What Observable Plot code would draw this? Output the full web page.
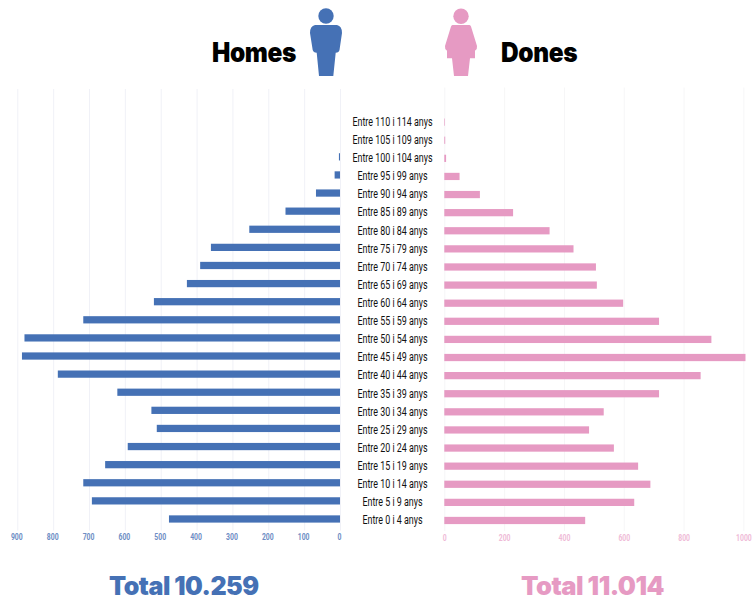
<!DOCTYPE html>
<html>
<head>
<meta charset="utf-8">
<script src="https://cdn.jsdelivr.net/npm/d3@7"></script>
<script src="https://cdn.jsdelivr.net/npm/@observablehq/plot@0.6"></script>
<style>
html,body{margin:0;padding:0;background:#fff;width:756px;height:601px;overflow:hidden}
#chart{position:relative;width:756px;height:601px}
#chart>svg,#chart>div>svg{position:absolute;left:0;top:0;background:transparent}
.t{position:absolute;font-family:Inter,sans-serif;font-weight:900;white-space:nowrap;line-height:1;transform-origin:left center}
</style>
</head>
<body>
<div id="chart">
<div class="t" style="left:212px;top:39px;font-size:27px;color:#000;letter-spacing:-.4px;transform:scaleX(.905)">Homes</div>
<div class="t" style="left:501px;top:39px;font-size:27px;color:#000;letter-spacing:-.4px;transform:scaleX(.905)">Dones</div>
<div class="t" style="left:109px;top:573px;font-size:25.5px;color:#4571b5;letter-spacing:-.5px;transform:scaleX(.98)">Total 10.259</div>
<div class="t" style="left:521px;top:573px;font-size:25.5px;color:#e69ac3;letter-spacing:-.5px">Total 11.014</div>
<svg width="756" height="80" style="position:absolute;left:0;top:0">
<circle cx="326" cy="16" r="7.7" fill="#4571b5"/>
<path fill="#4571b5" d="M315 25H337Q342 26 342 33L339.5 50Q339 52.5 335.7 52.7L333.3 76H319L316.7 52.7Q313.3 52.5 312.7 50L310 33Q310 26 315 25Z"/>
<circle cx="461" cy="16.3" r="7.7" fill="#e69ac3"/>
<path fill="#e69ac3" d="M452.5 25H469.5Q470.5 25 471 26.5L477 46Q477.5 49 475 50.7L475 58.3H470L468 76H454L452 58.3H447L447 50.7Q444.5 49 445 46L451 26.5Q451.5 25 452.5 25Z"/>
</svg>
</div>
<script>
const ages = ["Entre 110 i 114 anys","Entre 105 i 109 anys","Entre 100 i 104 anys","Entre 95 i 99 anys","Entre 90 i 94 anys","Entre 85 i 89 anys","Entre 80 i 84 anys","Entre 75 i 79 anys","Entre 70 i 74 anys","Entre 65 i 69 anys","Entre 60 i 64 anys","Entre 55 i 59 anys","Entre 50 i 54 anys","Entre 45 i 49 anys","Entre 40 i 44 anys","Entre 35 i 39 anys","Entre 30 i 34 anys","Entre 25 i 29 anys","Entre 20 i 24 anys","Entre 15 i 19 anys","Entre 10 i 14 anys","Entre 5 i 9 anys","Entre 0 i 4 anys"];
const homes = [0,0,3,15,67,152,253,360,390,427,519,716,880,887,787,621,526,511,592,655,716,692,477];
const dones = [2,3,6,51,119,230,352,432,507,510,598,718,893,1007,857,718,533,484,567,648,689,635,471];
const homesTicks = [0,100,200,300,400,500,600,700,800,900];
const donesTicks = [0,200,400,600,800,1000];
const blue = "#4571b5", pink = "#e69ac3";
const W = 756, H = 601;
const sans = "Roboto, 'Liberation Sans', sans-serif";

const left = Plot.plot({
  width: W, height: H, margin: 0,
  style: {background: "transparent", overflow: "visible"},
  x: {domain: [0, 900], range: [340, 17.3], axis: null},
  y: {domain: ages, range: [117, 522.6], paddingInner: 0.6, paddingOuter: 0, round: false, axis: null},
  marks: [
    Plot.ruleX(homesTicks, {y1: () => ages[0], y2: () => ages[22], stroke: "#f0f1f7", strokeWidth: 1, insetTop: -28, insetBottom: -8}),
    Plot.barX(homes.map((v, i) => ({age: ages[i], v})), {y: "age", x: "v", fill: blue}),
    Plot.text(homesTicks, {x: d => d, frameAnchor: "top", dx: -1, dy: 533, text: d => String(d), fill: "#6d8dc4", fontFamily: sans, fontWeight: "bold", fontSize: 9.5, className: "squeeze-tick"})
  ]
});

const right = Plot.plot({
  width: W, height: H, margin: 0,
  style: {background: "transparent", overflow: "visible"},
  x: {domain: [0, 1000], range: [444.3, 743.4], axis: null},
  y: {domain: ages, range: [118.5, 524.1], paddingInner: 0.6, paddingOuter: 0, round: false, axis: null},
  marks: [
    Plot.ruleX(donesTicks, {y1: () => ages[0], y2: () => ages[22], stroke: "#f6f6f7", strokeWidth: 1, insetTop: -31, insetBottom: -7}),
    Plot.barX(dones.map((v, i) => ({age: ages[i], v})), {y: "age", x: "v", fill: pink}),
    Plot.text(ages, {y: d => d, frameAnchor: "left", dx: 392, dy: -1, text: d => d, textAnchor: "middle", fill: "#111", fontFamily: sans, fontWeight: 400, fontSize: 13.5, className: "squeeze-label"}),
    Plot.text(donesTicks, {x: d => d, frameAnchor: "top", dy: 534, text: d => String(d), fill: "#efbbd7", fontFamily: sans, fontWeight: "bold", fontSize: 9.5, className: "squeeze-tick"})
  ]
});
const chart = document.getElementById("chart");
chart.append(left, right);
const squeeze = (selector, factor) => {
  chart.querySelectorAll(selector + " text").forEach(el => {
    el.setAttribute("textLength", el.getComputedTextLength() * factor);
    el.setAttribute("lengthAdjust", "spacingAndGlyphs");
  });
};
squeeze(".squeeze-label", 0.66);
squeeze(".squeeze-tick", 0.72);
</script>
</body>
</html>
